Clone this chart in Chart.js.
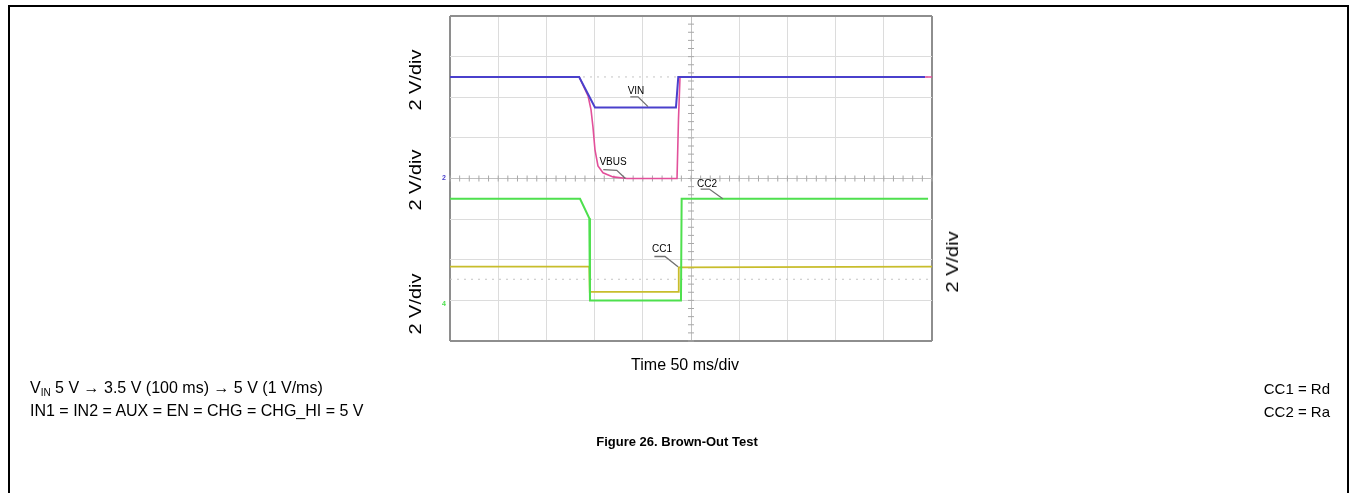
<!DOCTYPE html>
<html lang="en">
<head>
<meta charset="UTF-8">
<title>Brown-Out Test</title>
<style>
    body { margin: 0; width: 1355px; height: 493px; position: relative; overflow: hidden; background: #fff;
           font-family: "Liberation Sans", Arial, sans-serif; color: #000; }
    #frame { position: absolute; left: 8px; top: 5px; width: 1341px; height: 520px; border: 2px solid #000; box-sizing: border-box; }
    #wrap { position: absolute; left: 0; top: 0; width: 1355px; height: 493px; }
    .t { position: absolute; white-space: nowrap; line-height: 1; }
    .rot { font-size: 16px; transform: translate(-50%, -50%) rotate(-90deg) scale(1.25, 1); }
    .mid { transform: translate(-50%, -50%); }
    .left { transform: translateY(-50%); font-size: 16px; }
    .right { transform: translate(-100%, -50%); font-size: 15px; }
    .lab { font-size: 10px; transform: translate(-50%, -50%); }
    sub { font-size: 10px; vertical-align: -3px; line-height: 0; }
</style>
</head>
<body>
    <div id="frame"></div>
    <div id="wrap"><canvas id="scope"></canvas></div>

    <div class="t rot" style="left:416px; top:80px;">2 V/div</div>
    <div class="t rot" style="left:416px; top:180px;">2 V/div</div>
    <div class="t rot" style="left:416px; top:304px;">2 V/div</div>
    <div class="t rot" style="left:953px; top:262px;">2 V/div</div>

    <div class="t lab" style="left:636px; top:91px;">VIN</div>
    <div class="t lab" style="left:613px; top:162px;">VBUS</div>
    <div class="t lab" style="left:707px; top:184px;">CC2</div>
    <div class="t lab" style="left:662px; top:249px;">CC1</div>

    <div class="t mid" style="left:685px; top:365px; font-size:16px;">Time 50 ms/div</div>
    <div class="t left" style="left:30px; top:388px;">V<sub>IN</sub> 5 V &rarr; 3.5 V (100 ms) &rarr; 5 V (1 V/ms)</div>
    <div class="t left" style="left:30px; top:411px;">IN1 = IN2 = AUX = EN = CHG = CHG_HI = 5 V</div>
    <div class="t right" style="left:1330px; top:388px;">CC1 = Rd</div>
    <div class="t right" style="left:1330px; top:411px;">CC2 = Ra</div>
    <div class="t mid" style="left:677px; top:441px; font-size:13px; font-weight:bold;">Figure 26. Brown-Out Test</div>

    <script src="https://cdn.jsdelivr.net/npm/chart.js"></script>
    <script>
        // scope settings: 10 x 8 divisions, 50 ms/div, 2 V/div
        const msPerDiv = 50;
        const vPerDiv = 2;

        // VIN (ch ref at center line)
        const vinT = [0, 134, 150.4, 234.4, 236.8, 492.7];
        const vinV = [5.0, 5.0, 3.5, 3.5, 5.0, 5.0];

        // VBUS
        const vbusT = [0, 134, 143.2, 146.3, 148.3, 150.4, 153.5, 158.7, 169.1, 183.6, 235.5, 237.0, 238.6, 500];
        const vbusV = [5.0, 5.0, 4.07, 3.38, 2.54, 1.41, 0.62, 0.28, 0.08, 0.0, 0.0, 2.89, 5.0, 5.0];

        // CC2
        const cc2T = [0, 134.9, 144.5, 145.2, 239.6, 240.3, 495.9];
        const cc2V = [5.0, 5.0, 4.04, 0.0, 0.0, 5.0, 5.0];

        // CC1
        const cc1T = [0, 144.5, 145.0, 236.8, 237.3, 500];
        const cc1V = [1.66, 1.66, 0.42, 0.42, 1.62, 1.66];

        // channel zero reference (in divisions from bottom)
        const refVin = 4, refVbus = 4, refCc1 = 1, refCc2 = 1;

        function toPoints(t, v, ref) {
            let pts = [];
            for (let i = 0; i < t.length; i++) {
                pts.push({ x: t[i], y: ref + v[i] / vPerDiv });
            }
            return pts;
        }

        // leader lines for the trace labels: [x ms, y div] points
        const leaders = [
            [[187, 6.01], [195, 6.01], [205.4, 5.77]],
            [[159, 4.22], [173, 4.2], [182, 4.0]],
            [[260, 3.74], [269, 3.74], [283, 3.5]],
            [[212, 2.08], [223, 2.08], [236.5, 1.83]]
        ];

        const scopeMarks = {
            id: 'scopeMarks',
            beforeDatasetsDraw(chart) {
                const c = chart.ctx, xs = chart.scales.x, ys = chart.scales.y;
                const a = chart.chartArea;
                c.save();
                c.strokeStyle = '#a8a8a8';
                c.lineWidth = 1;
                // minor ticks along the center cross
                const cx = xs.getPixelForValue(250), cy = ys.getPixelForValue(4);
                for (let d = 0; d <= 8; d += 0.2) {
                    const y = ys.getPixelForValue(d);
                    c.beginPath(); c.moveTo(cx - 3, y); c.lineTo(cx + 3, y); c.stroke();
                }
                for (let t = 0; t <= 500; t += 10) {
                    const x = xs.getPixelForValue(t);
                    c.beginPath(); c.moveTo(x, cy - 3); c.lineTo(x, cy + 3); c.stroke();
                }
                // faint dotted reference lines
                c.setLineDash([2, 5]);
                c.strokeStyle = '#c4c4c4';
                [6.5, 1.52].forEach(d => {
                    const y = ys.getPixelForValue(d);
                    c.beginPath(); c.moveTo(a.left, y); c.lineTo(a.right, y); c.stroke();
                });
                c.restore();
            },
            afterDatasetsDraw(chart) {
                const c = chart.ctx, xs = chart.scales.x, ys = chart.scales.y;
                c.save();
                c.strokeStyle = '#707070';
                c.lineWidth = 1.3;
                leaders.forEach(l => {
                    c.beginPath();
                    l.forEach((p, i) => {
                        const x = xs.getPixelForValue(p[0]), y = ys.getPixelForValue(p[1]);
                        if (i == 0) c.moveTo(x, y); else c.lineTo(x, y);
                    });
                    c.stroke();
                });
                // small channel markers at the left edge
                c.font = 'bold 7px "Liberation Sans"';
                c.textAlign = 'left';
                c.textBaseline = 'middle';
                c.fillStyle = '#4a40cc';
                c.fillText('2', chart.chartArea.left - 8, ys.getPixelForValue(refVin));
                c.fillStyle = '#4ee04e';
                c.fillText('4', chart.chartArea.left - 8, ys.getPixelForValue(refCc2) + 4);
                c.restore();
            }
        };

        const edgeColor = '#8e8e8e';

        new Chart(document.getElementById('scope'), {
            type: 'line',
            data: {
                datasets: [
                    { label: 'VIN', data: toPoints(vinT, vinV, refVin), borderColor: '#4a40cc', borderWidth: 2 },
                    { label: 'VBUS', data: toPoints(vbusT, vbusV, refVbus), borderColor: '#e2509a', borderWidth: 1.6 },
                    { label: 'CC2', data: toPoints(cc2T, cc2V, refCc2), borderColor: '#4ee04e', borderWidth: 2 },
                    { label: 'CC1', data: toPoints(cc1T, cc1V, refCc1), borderColor: '#c8bd2c', borderWidth: 1.8 }
                ]
            },
            options: {
                responsive: true,
                maintainAspectRatio: false,
                animation: false,
                layout: { padding: { left: 450, top: 16, right: 423, bottom: 152 } },
                elements: { point: { radius: 0 }, line: { tension: 0 } },
                scales: {
                    x: {
                        type: 'linear', min: 0, max: 10 * msPerDiv,
                        ticks: { display: false, stepSize: msPerDiv },
                        border: { display: false },
                        grid: {
                            drawTicks: false,
                            color: c => (c.tick.value == 0 || c.tick.value == 500) ? edgeColor : (c.tick.value == 250 ? '#c0c0c0' : '#dcdcdc'),
                            lineWidth: c => (c.tick.value == 0 || c.tick.value == 500) ? 2 : 1
                        }
                    },
                    y: {
                        min: 0, max: 8,
                        ticks: { display: false, stepSize: 1 },
                        border: { display: false },
                        grid: {
                            drawTicks: false,
                            color: c => (c.tick.value == 0 || c.tick.value == 8) ? edgeColor : (c.tick.value == 4 ? '#c0c0c0' : '#dcdcdc'),
                            lineWidth: c => (c.tick.value == 0 || c.tick.value == 8) ? 2 : 1
                        }
                    }
                },
                plugins: { legend: { display: false }, tooltip: { enabled: false } }
            },
            plugins: [scopeMarks]
        });
    </script>
</body>
</html>
